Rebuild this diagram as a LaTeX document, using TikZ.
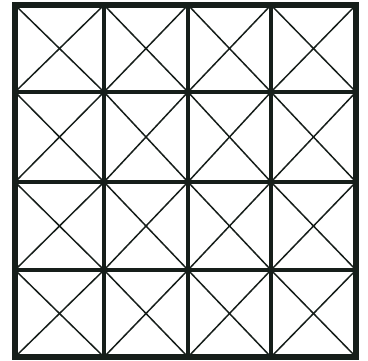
\documentclass[tikz,border=0pt]{standalone}
\definecolor{ink}{RGB}{22,30,26}
\begin{document}
\begin{tikzpicture}[x=1pt,y=-1pt,
  frame/.style={draw=ink,line width=5.5pt},
  gridline/.style={draw=ink,line width=3.4pt},
  diag/.style={draw=ink,line width=1.5pt}]
\useasboundingbox (0,0) rectangle (368,360);
\def\xs{{15,104,188,271,356}}
\def\ys{{5,92,182,270,357}}
% diagonals
\foreach \i in {0,...,3}{
  \foreach \j in {0,...,3}{
    \pgfmathsetmacro{\xa}{\xs[\i]}
    \pgfmathsetmacro{\xb}{\xs[\i+1]}
    \pgfmathsetmacro{\ya}{\ys[\j]}
    \pgfmathsetmacro{\yb}{\ys[\j+1]}
    \draw[diag] (\xa,\ya) -- (\xb,\yb);
    \draw[diag] (\xb,\ya) -- (\xa,\yb);
  }
}
% inner grid lines
\foreach \i in {1,2,3}{
  \pgfmathsetmacro{\xa}{\xs[\i]}
  \pgfmathsetmacro{\ya}{\ys[\i]}
  \draw[gridline] (\xa,5) -- (\xa,357);
  \draw[gridline] (15,\ya) -- (356,\ya);
}
% outer frame
\draw[frame] (15,5) rectangle (356,357);
\end{tikzpicture}
\end{document}
